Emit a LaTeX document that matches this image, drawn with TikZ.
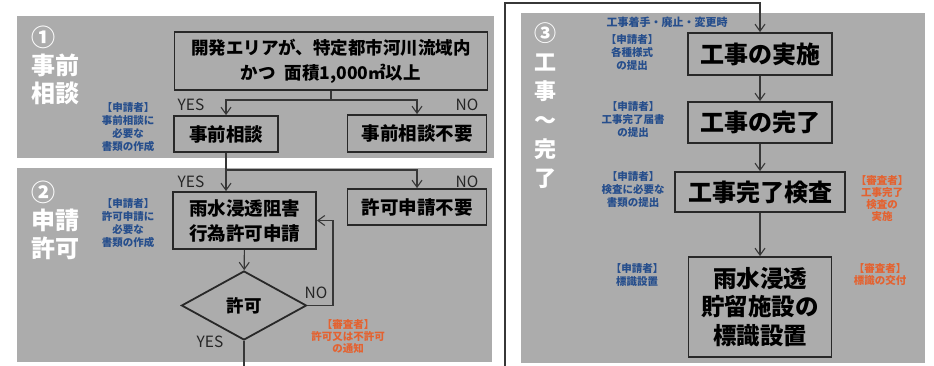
\documentclass[tikz,border=0pt]{standalone}
\usepackage{fontspec}
\setmainfont{Noto Sans CJK JP}
\usetikzlibrary{shapes.geometric,arrows.meta,positioning}

\definecolor{panelgray}{RGB}{172,172,172}
\definecolor{boxline}{RGB}{40,40,40}
\definecolor{lineclr}{RGB}{55,55,55}
\definecolor{applicantblue}{RGB}{38,78,140}
\definecolor{examinerorange}{RGB}{228,98,48}

\tikzstyle{panel} = [fill=panelgray, draw=none]
\tikzstyle{process} = [rectangle, draw=boxline, line width=1.8pt, align=center, inner sep=0pt, font=\bfseries\fontsize{18.5}{25}\selectfont]
\tikzstyle{bigprocess} = [process, font=\bfseries\fontsize{24}{28.5}\selectfont]
\tikzstyle{decision} = [diamond, draw=boxline, line width=1.8pt, inner sep=0pt, minimum width=125pt, minimum height=69pt, font=\bfseries\fontsize{17.5}{20}\selectfont]
\tikzstyle{phase} = [text=white, font=\bfseries\fontsize{24}{28}\selectfont, inner sep=0pt]
\tikzstyle{applicant} = [text=applicantblue, align=center, inner sep=0pt, font=\bfseries\fontsize{10.5}{13}\selectfont]
\tikzstyle{examiner} = [text=examinerorange, align=center, inner sep=0pt, font=\bfseries\fontsize{10.5}{12}\selectfont]
\tikzstyle{yesno} = [text=black!85, inner sep=0pt, font=\fontsize{15.5}{15.5}\selectfont]
\tikzstyle{link} = [draw=lineclr, line width=1.1pt]
\tikzstyle{flow} = [link, -{Straight Barb[length=7pt,width=10pt]}]

\begin{document}
\begin{tikzpicture}[x=1pt, y=-1pt]
    \useasboundingbox (0,0) rectangle (934,366);
    %\draw[step=50,gray,very thin] (0,0) grid (934,366);
    % panels
    \fill[panel] (17,16) rectangle (494,158);
    \fill[panel] (17,168) rectangle (492,362);
    \fill[panel] (521,13) rectangle (925,363);

    % 1 prior consultation
    \node (Phase1) [phase, align=left, anchor=west] at (31,65) {①\\事前\\相談};
    \node (Condition) [process, minimum width=313pt, minimum height=58pt, font=\bfseries\fontsize{17.5}{25}\selectfont] at (331,61) {開発エリアが、特定都市河川流域内\\かつ\enspace 面積1,000㎡以上};
    \node (Consult) [process, minimum width=104pt, minimum height=36pt] at (226,134) {事前相談};
    \node (NoConsult) [process, minimum width=139pt, minimum height=37pt] at (417,133.5) {事前相談不要};
    \node (App1) [applicant] at (128,127.5) {【申請者】\\事前相談に\\必要な\\書類の作成};
    \node (Yes1) [yesno] at (191,105) {YES};
    \node (No1) [yesno] at (467,105) {NO};

    % 2 application
    \node (Phase2) [phase, align=left, anchor=west] at (31,220) {②\\申請\\許可};
    \node (Apply) [process, minimum width=143pt, minimum height=57pt] at (244.5,220.5) {雨水浸透阻害\\行為許可申請};
    \node (NoApply) [process, minimum width=139pt, minimum height=36pt] at (417,207) {許可申請不要};
    \node (Permit) [decision] at (244,305.5) {許可};
    \node (App2) [applicant] at (128,223) {【申請者】\\許可申請に\\必要な\\書類の作成};
    \node (Exam1) [examiner] at (348,336) {【審査者】\\許可又は不許可\\の通知};
    \node (Yes2) [yesno] at (191,182) {YES};
    \node (No2) [yesno] at (467,182) {NO};
    \node (No3) [yesno] at (316,293) {NO};
    \node (Yes3) [yesno] at (210,342) {YES};

    % 3 construction to completion
    \node (Phase3) [phase, align=center, font=\bfseries\fontsize{22}{29}\selectfont] at (545,105.5) {③\\工\\事\\～\\完\\了};
    \node (Work) [bigprocess, minimum width=144pt, minimum height=42pt] at (760,54) {工事の実施};
    \node (Done) [bigprocess, minimum width=144pt, minimum height=41pt] at (760,122.5) {工事の完了};
    \node (Inspect) [bigprocess, minimum width=170pt, minimum height=40pt] at (760,192) {工事完了検査};
    \node (Sign) [bigprocess, minimum width=143pt, minimum height=100pt, font=\bfseries\fontsize{23.5}{28.5}\selectfont] at (760,307) {雨水浸透\\貯留施設の\\標識設置};
    \node (Timing) [applicant, font=\bfseries\fontsize{11}{13}\selectfont] at (667,22) {工事着手・廃止・変更時};
    \node (App3) [applicant] at (632,53) {【申請者】\\各種様式\\の提出};
    \node (App4) [applicant] at (633,120) {【申請者】\\工事完了届書\\の提出};
    \node (App5) [applicant] at (633,190) {【申請者】\\検査に必要な\\書類の提出};
    \node (App6) [applicant] at (637,275) {【申請者】\\標識設置};
    \node (Exam2) [examiner] at (882,199) {【審査者】\\工事完了\\検査の\\実施};
    \node (Exam3) [examiner] at (880,275) {【審査者】\\標識の交付};

    % connectors
    \coordinate (Split1) at (331,100);
    \coordinate (Split2) at (226,170);
    \coordinate (Back) at (333,305.5);
    \coordinate (OutL) at (244,366);
    \coordinate (OutR) at (505,366);
    \coordinate (TopR) at (760,3);
    \draw [link] (Condition) -- (Split1);
    \draw [flow] (Split1) -| (Consult);
    \draw [flow] (Split1) -| (NoConsult);
    \draw [flow] (Consult) -- (Consult.south |- Apply.north);
    \draw [flow] (Split2) -| (NoApply);
    \draw [flow] (Apply) -- (Permit);
    \draw [flow] (Permit) -- (Back) |- (Apply.east);
    \draw [link] (Permit) -- (OutL);
    \draw [flow] (OutR) |- (TopR) -- (Work);
    \draw [flow] (Work) -- (Done);
    \draw [flow] (Done) -- (Inspect);
    \draw [flow] (Inspect) -- (Sign);
\end{tikzpicture}
\end{document}
